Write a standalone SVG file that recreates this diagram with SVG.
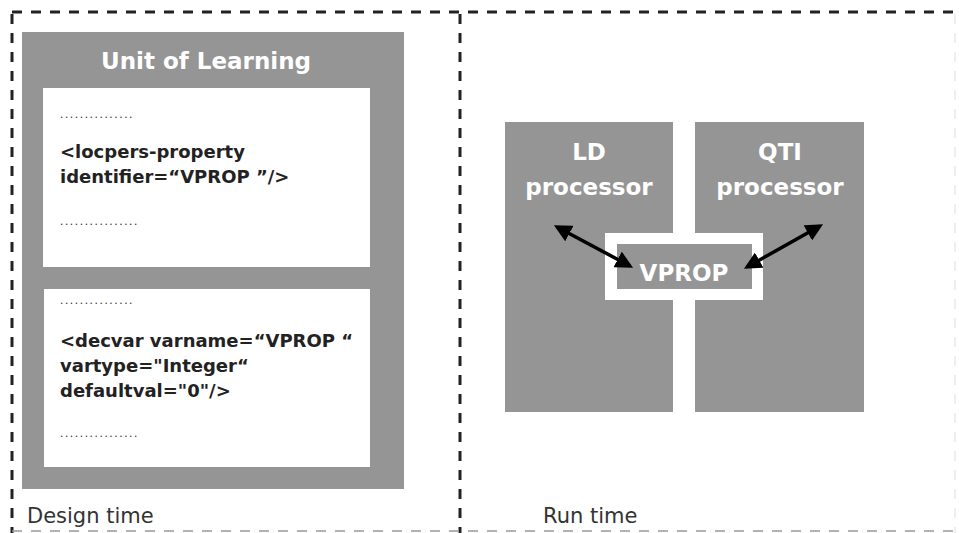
<svg xmlns="http://www.w3.org/2000/svg" width="959" height="533" viewBox="0 0 959 533">
<style>
.dash{stroke:#222;stroke-width:3;stroke-dasharray:10 9;fill:none}
.gray{fill:#959595}
.white{fill:#fff}
.title{font-family:"DejaVu Sans","Liberation Sans",Arial,sans-serif;font-weight:bold;fill:#fff;font-size:23px;text-anchor:middle}
.code{font-family:"DejaVu Sans","Liberation Sans",Arial,sans-serif;font-weight:bold;fill:#222;font-size:18px}
.dots{font-family:"Liberation Sans",Arial,sans-serif;fill:#333;font-size:12px;letter-spacing:1.6px}
.lbl{font-family:"DejaVu Sans","Liberation Sans",Arial,sans-serif;fill:#333;font-size:21px}
.arrow{stroke:#000;stroke-width:3.5;fill:none}
</style>
<defs>
<marker id="ah" viewBox="0 0 10 10" refX="8" refY="5" markerWidth="5" markerHeight="5" orient="auto-start-reverse">
<path d="M0,0 L10,5 L0,10 z" fill="#000"/>
</marker>
</defs>
<rect width="959" height="533" fill="#fff"/>
<g id="frame">
<path class="dash" d="M12,12 H955"/>
<path class="dash" d="M12,14 V533"/>
<path class="dash" d="M460,14 V533"/>
<path class="dash" d="M955,14 V533" style="stroke:#ddd;stroke-width:1"/>
<path class="dash" d="M12,531 H955" style="stroke:#999;stroke-width:1.5"/>
</g>
<g id="unit-of-learning">
<rect class="gray" x="22" y="32" width="382" height="457"/>
<text class="title" x="206" y="69">Unit of Learning</text>
</g>
<g id="locpers-box">
<rect class="white" x="43" y="88" width="327" height="179"/>
<text class="dots" x="60" y="118">...............</text>
<text class="code" x="60" y="158">&lt;locpers-property</text>
<text class="code" x="60" y="183">identifier=“VPROP ”/&gt;</text>
<text class="dots" x="60" y="225">................</text>
</g>
<g id="decvar-box">
<rect class="white" x="44" y="289" width="326" height="178"/>
<text class="dots" x="60" y="304">...............</text>
<text class="code" x="60" y="347">&lt;decvar varname=“VPROP “</text>
<text class="code" x="60" y="372">vartype="Integer“</text>
<text class="code" x="60" y="397">defaultval="0"/&gt;</text>
<text class="dots" x="60" y="437">................</text>
</g>
<text class="lbl" x="27" y="523">Design time</text>
<text class="lbl" x="543" y="523">Run time</text>
<g id="ld-processor">
<rect class="gray" x="505" y="122" width="168" height="290"/>
<text class="title" x="589" y="160">LD</text>
<text class="title" x="589" y="195">processor</text>
</g>
<g id="qti-processor">
<rect class="gray" x="695" y="122" width="169" height="290"/>
<text class="title" x="780" y="160">QTI</text>
<text class="title" x="780" y="195">processor</text>
</g>
<g id="vprop">
<rect class="white" x="605" y="233" width="158" height="67"/>
<rect class="gray" x="617" y="244" width="135" height="45"/>
<text class="title" x="684" y="281">VPROP</text>
</g>
<g id="connectors">
<line class="arrow" x1="557" y1="227" x2="630" y2="266" marker-start="url(#ah)" marker-end="url(#ah)"/>
<line class="arrow" x1="747" y1="267" x2="820" y2="226" marker-start="url(#ah)" marker-end="url(#ah)"/>
</g>
</svg>
